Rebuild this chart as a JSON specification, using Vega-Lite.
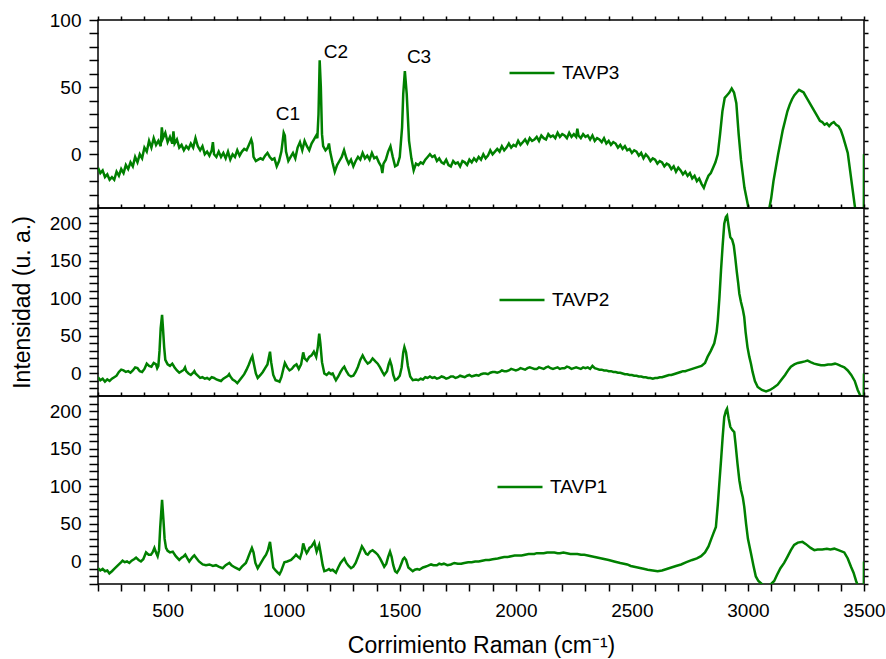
{
  "$schema": "https://vega.github.io/schema/vega-lite/v6.json",
  "padding": {"left": 10, "top": 10, "right": 0, "bottom": 0},
  "background": "white",
  "config": {
    "font": "Liberation Sans",
    "view": {"stroke": "#000", "strokeWidth": 1.5},
    "axis": {"domain": false, "ticks": true, "tickColor": "#000", "tickWidth": 1.5, "labelColor": "#000", "labelFont": "Liberation Sans", "labelFontSize": 19, "titleFont": "Liberation Sans", "titleFontSize": 23, "titleFontWeight": "normal", "titleColor": "#000", "grid": false, "labelOverlap": false, "labelFlush": false, "format": "d"},
    "legend": {"labelFont": "Liberation Sans", "labelFontSize": 19, "labelColor": "#000", "padding": 0, "symbolType": "stroke", "symbolStrokeWidth": 2.5, "symbolSize": 2025, "labelOffset": 6, "orient": "none"},
    "concat": {"spacing": 0}
  },
  "datasets": {
    "t3": [
      {"x":200,"y":-10},{"x":210,"y":-14},{"x":220,"y":-12},{"x":230,"y":-17},{"x":240,"y":-15},{"x":250,"y":-19},{"x":260,"y":-17},{"x":270,"y":-19},{"x":280,"y":-13},{"x":290,"y":-16},
      {"x":300,"y":-11},{"x":310,"y":-14},{"x":320,"y":-8},{"x":330,"y":-11},{"x":340,"y":-6},{"x":350,"y":-9},{"x":360,"y":-2},{"x":370,"y":-6},{"x":380,"y":0},{"x":390,"y":-3},
      {"x":400,"y":5},{"x":410,"y":2},{"x":420,"y":10},{"x":430,"y":5},{"x":440,"y":12},{"x":450,"y":7},{"x":460,"y":10},{"x":470,"y":6},{"x":475,"y":20},{"x":480,"y":12},
      {"x":490,"y":16},{"x":500,"y":9},{"x":510,"y":13},{"x":520,"y":8},{"x":525,"y":17},{"x":530,"y":8},{"x":540,"y":11},{"x":550,"y":5},{"x":560,"y":7},{"x":570,"y":3},
      {"x":580,"y":6},{"x":590,"y":4},{"x":600,"y":8},{"x":610,"y":5},{"x":620,"y":12},{"x":630,"y":6},{"x":640,"y":3},{"x":650,"y":6},{"x":660,"y":0},{"x":670,"y":2},
      {"x":680,"y":-1},{"x":690,"y":3},{"x":695,"y":9},{"x":700,"y":0},{"x":710,"y":-2},{"x":720,"y":2},{"x":730,"y":-2},{"x":740,"y":1},{"x":750,"y":-3},{"x":760,"y":2},
      {"x":770,"y":-4},{"x":780,"y":0},{"x":790,"y":-2},{"x":800,"y":3},{"x":810,"y":-1},{"x":820,"y":2},{"x":830,"y":4},{"x":840,"y":3},{"x":850,"y":7},{"x":860,"y":11},
      {"x":865,"y":8},{"x":870,"y":-2},{"x":880,"y":-5},{"x":890,"y":-4},{"x":900,"y":-3},{"x":910,"y":-4},{"x":920,"y":-1},{"x":930,"y":1},{"x":940,"y":-2},{"x":950,"y":-4},
      {"x":960,"y":-3},{"x":970,"y":-9},{"x":980,"y":-5},{"x":990,"y":2},{"x":1000,"y":16},{"x":1005,"y":14},{"x":1010,"y":2},{"x":1020,"y":-5},{"x":1030,"y":-2},{"x":1040,"y":1},
      {"x":1050,"y":-3},{"x":1060,"y":5},{"x":1070,"y":9},{"x":1080,"y":3},{"x":1090,"y":10},{"x":1100,"y":6},{"x":1110,"y":3},{"x":1120,"y":8},{"x":1130,"y":11},{"x":1140,"y":14},
      {"x":1145,"y":12},{"x":1150,"y":30},{"x":1155,"y":70},{"x":1160,"y":50},{"x":1165,"y":15},{"x":1170,"y":6},{"x":1180,"y":3},{"x":1190,"y":5},{"x":1195,"y":8},{"x":1200,"y":2},
      {"x":1210,"y":-6},{"x":1220,"y":-13},{"x":1230,"y":-8},{"x":1240,"y":-5},{"x":1250,"y":-2},{"x":1260,"y":3},{"x":1270,"y":-3},{"x":1280,"y":-7},{"x":1290,"y":-4},{"x":1300,"y":-9},
      {"x":1310,"y":-5},{"x":1320,"y":-2},{"x":1330,"y":-4},{"x":1340,"y":1},{"x":1350,"y":-3},{"x":1360,"y":-1},{"x":1370,"y":-4},{"x":1380,"y":1},{"x":1390,"y":-3},{"x":1400,"y":-2},
      {"x":1410,"y":-6},{"x":1420,"y":-9},{"x":1425,"y":-14},{"x":1430,"y":-7},{"x":1440,"y":-4},{"x":1450,"y":2},{"x":1460,"y":6},{"x":1470,"y":-2},{"x":1480,"y":-9},{"x":1490,"y":-8},
      {"x":1500,"y":-2},{"x":1510,"y":20},{"x":1515,"y":45},{"x":1522,"y":62},{"x":1530,"y":45},{"x":1540,"y":10},{"x":1550,"y":-3},{"x":1560,"y":-12},{"x":1570,"y":-7},{"x":1580,"y":-8},
      {"x":1590,"y":-6},{"x":1600,"y":-7},{"x":1610,"y":-4},{"x":1620,"y":-2},
      {"x":1630,"y":0},{"x":1640,"y":-2},{"x":1650,"y":-1},{"x":1660,"y":-5},{"x":1670,"y":-3},{"x":1680,"y":-6},{"x":1690,"y":-7},{"x":1700,"y":-4},{"x":1710,"y":-8},{"x":1720,"y":-9},
      {"x":1730,"y":-5},{"x":1740,"y":-7},{"x":1750,"y":-6},{"x":1760,"y":-9},{"x":1770,"y":-5},{"x":1780,"y":-6},{"x":1790,"y":-8},{"x":1800,"y":-4},{"x":1810,"y":-6},{"x":1820,"y":-3},
      {"x":1830,"y":-5},{"x":1840,"y":-2},{"x":1850,"y":-4},{"x":1860,"y":0},{"x":1870,"y":-3},{"x":1880,"y":-1},{"x":1890,"y":3},{"x":1900,"y":0},{"x":1910,"y":2},{"x":1920,"y":4},
      {"x":1930,"y":2},{"x":1940,"y":6},{"x":1950,"y":3},{"x":1960,"y":5},{"x":1970,"y":8},{"x":1980,"y":5},{"x":1990,"y":7},{"x":2000,"y":6},{"x":2010,"y":10},{"x":2020,"y":7},
      {"x":2030,"y":9},{"x":2040,"y":11},{"x":2050,"y":8},{"x":2060,"y":12},{"x":2070,"y":10},{"x":2080,"y":11},{"x":2090,"y":13},{"x":2100,"y":10},{"x":2110,"y":14},{"x":2120,"y":12},
      {"x":2130,"y":11},{"x":2140,"y":15},{"x":2150,"y":13},{"x":2160,"y":14},{"x":2170,"y":12},{"x":2180,"y":16},{"x":2190,"y":13},{"x":2200,"y":15},{"x":2210,"y":14},{"x":2220,"y":12},
      {"x":2230,"y":16},{"x":2240,"y":13},{"x":2250,"y":15},{"x":2260,"y":13},{"x":2265,"y":19},{"x":2270,"y":14},{"x":2280,"y":12},{"x":2290,"y":15},{"x":2300,"y":13},{"x":2310,"y":14},
      {"x":2320,"y":11},{"x":2330,"y":14},{"x":2340,"y":10},{"x":2350,"y":12},{"x":2360,"y":11},{"x":2370,"y":9},{"x":2380,"y":12},{"x":2390,"y":8},{"x":2400,"y":10},{"x":2410,"y":7},
      {"x":2420,"y":9},{"x":2430,"y":8},{"x":2440,"y":5},{"x":2450,"y":7},{"x":2460,"y":4},{"x":2470,"y":6},{"x":2480,"y":3},{"x":2490,"y":4},{"x":2500,"y":1},{"x":2510,"y":3},
      {"x":2520,"y":2},{"x":2530,"y":-1},{"x":2540,"y":1},{"x":2550,"y":-3},{"x":2560,"y":0},{"x":2570,"y":-2},{"x":2580,"y":-5},{"x":2590,"y":-3},{"x":2600,"y":-4},{"x":2610,"y":-7},
      {"x":2620,"y":-5},{"x":2630,"y":-6},{"x":2640,"y":-9},{"x":2650,"y":-7},{"x":2660,"y":-8},{"x":2670,"y":-11},{"x":2680,"y":-9},{"x":2690,"y":-13},{"x":2700,"y":-10},{"x":2710,"y":-12},
      {"x":2720,"y":-15},{"x":2730,"y":-13},{"x":2740,"y":-16},{"x":2750,"y":-14},{"x":2760,"y":-18},{"x":2770,"y":-16},{"x":2780,"y":-20},{"x":2790,"y":-18},{"x":2800,"y":-22},{"x":2810,"y":-25},
      {"x":2820,"y":-20},{"x":2830,"y":-16},{"x":2840,"y":-14},{"x":2850,"y":-10},{"x":2860,"y":-6},{"x":2870,"y":0},{"x":2880,"y":15},
      {"x":2890,"y":32},{"x":2900,"y":42},{"x":2910,"y":44},{"x":2920,"y":46},{"x":2930,"y":49},{"x":2940,"y":46},{"x":2950,"y":38},{"x":2960,"y":15},{"x":2970,"y":-4},{"x":2985,"y":-25},
      {"x":3000,"y":-38},{"x":3010,"y":-48},{"x":3030,"y":-65},{"x":3050,"y":-75},{"x":3070,"y":-65},{"x":3090,"y":-42},{"x":3100,"y":-33},{"x":3110,"y":-20},{"x":3120,"y":-10},{"x":3130,"y":0},
      {"x":3140,"y":9},{"x":3150,"y":18},{"x":3160,"y":25},{"x":3170,"y":32},{"x":3180,"y":37},{"x":3190,"y":41},{"x":3200,"y":44},{"x":3210,"y":46},{"x":3220,"y":48},{"x":3230,"y":47},
      {"x":3240,"y":46},{"x":3250,"y":43},{"x":3260,"y":40},{"x":3270,"y":37},{"x":3280,"y":34},{"x":3290,"y":31},{"x":3300,"y":28},{"x":3310,"y":25},{"x":3320,"y":24},{"x":3330,"y":22},
      {"x":3340,"y":23},{"x":3350,"y":21},{"x":3360,"y":23},{"x":3370,"y":24},{"x":3380,"y":22},{"x":3390,"y":21},{"x":3400,"y":18},{"x":3410,"y":13},{"x":3420,"y":7},{"x":3430,"y":1},
      {"x":3440,"y":-12},{"x":3450,"y":-25},{"x":3460,"y":-38},{"x":3470,"y":-50},{"x":3490,"y":-70},{"x":3499,"y":-70},{"x":3500,"y":0}
    ],
    "t2": [
      {"x":200,"y":-5},{"x":210,"y":-9},{"x":220,"y":-7},{"x":230,"y":-11},{"x":240,"y":-8},{"x":250,"y":-10},{"x":260,"y":-7},{"x":270,"y":-5},{"x":280,"y":-3},{"x":290,"y":2},
      {"x":300,"y":5},{"x":310,"y":4},{"x":320,"y":2},{"x":330,"y":3},{"x":340,"y":1},{"x":350,"y":4},{"x":360,"y":8},{"x":370,"y":7},{"x":380,"y":3},{"x":390,"y":2},
      {"x":400,"y":6},{"x":410,"y":13},{"x":420,"y":10},{"x":430,"y":9},{"x":440,"y":14},{"x":450,"y":12},{"x":455,"y":7},{"x":460,"y":10},{"x":465,"y":30},{"x":470,"y":60},
      {"x":476,"y":78},{"x":480,"y":60},{"x":485,"y":35},{"x":490,"y":18},{"x":500,"y":12},{"x":510,"y":10},{"x":520,"y":13},{"x":530,"y":8},{"x":540,"y":4},{"x":550,"y":1},
      {"x":560,"y":3},{"x":570,"y":5},{"x":575,"y":8},{"x":580,"y":3},{"x":590,"y":0},{"x":600,"y":-2},{"x":610,"y":1},{"x":615,"y":3},{"x":620,"y":0},{"x":630,"y":-3},
      {"x":640,"y":-6},{"x":650,"y":-5},{"x":660,"y":-7},{"x":670,"y":-6},{"x":680,"y":-8},{"x":690,"y":-5},{"x":700,"y":-6},{"x":710,"y":-8},{"x":720,"y":-9},{"x":730,"y":-10},
      {"x":740,"y":-7},{"x":750,"y":-5},{"x":760,"y":-3},{"x":765,"y":-1},{"x":770,"y":-4},{"x":780,"y":-8},{"x":790,"y":-10},{"x":800,"y":-13},{"x":810,"y":-9},{"x":820,"y":-5},
      {"x":830,"y":-1},{"x":840,"y":5},{"x":850,"y":12},{"x":860,"y":20},{"x":865,"y":23},{"x":870,"y":15},{"x":880,"y":0},{"x":888,"y":-6},{"x":900,"y":-2},{"x":910,"y":2},
      {"x":920,"y":7},{"x":930,"y":12},{"x":935,"y":20},{"x":941,"y":29},{"x":946,"y":15},{"x":955,"y":-2},{"x":965,"y":-9},{"x":975,"y":-10},{"x":982,"y":-11},{"x":990,"y":-5},
      {"x":1000,"y":8},{"x":1005,"y":14},{"x":1015,"y":8},{"x":1025,"y":4},{"x":1035,"y":6},{"x":1045,"y":10},{"x":1055,"y":12},{"x":1065,"y":6},{"x":1075,"y":12},{"x":1084,"y":28},
      {"x":1090,"y":20},{"x":1100,"y":17},{"x":1110,"y":22},{"x":1120,"y":24},{"x":1130,"y":29},{"x":1140,"y":22},{"x":1147,"y":35},{"x":1153,"y":53},{"x":1158,"y":40},{"x":1165,"y":15},
      {"x":1175,"y":0},{"x":1185,"y":-2},{"x":1195,"y":1},{"x":1205,"y":-1},{"x":1211,"y":0},{"x":1220,"y":-6},{"x":1225,"y":-9},{"x":1235,"y":-4},{"x":1245,"y":2},{"x":1255,"y":7},
      {"x":1261,"y":9},{"x":1270,"y":3},{"x":1280,"y":-2},{"x":1290,"y":-4},{"x":1300,"y":-3},{"x":1310,"y":2},{"x":1320,"y":9},{"x":1330,"y":18},{"x":1340,"y":24},{"x":1350,"y":18},
      {"x":1362,"y":13},{"x":1372,"y":15},{"x":1383,"y":20},{"x":1395,"y":16},{"x":1405,"y":13},{"x":1415,"y":8},{"x":1425,"y":2},{"x":1433,"y":-2},{"x":1445,"y":3},{"x":1452,"y":12},
      {"x":1458,"y":17},{"x":1465,"y":10},{"x":1472,"y":-2},{"x":1480,"y":-9},{"x":1490,"y":-7},{"x":1500,"y":-3},{"x":1508,"y":8},{"x":1515,"y":28},{"x":1520,"y":35},{"x":1527,"y":28},
      {"x":1535,"y":10},{"x":1545,"y":-4},{"x":1556,"y":-9},{"x":1570,"y":-8},{"x":1580,"y":-9},{"x":1590,"y":-7},{"x":1600,"y":-8},{"x":1610,"y":-5},{"x":1620,"y":-6},{"x":1630,"y":-4},{"x":1640,"y":-6},{"x":1650,"y":-5},{"x":1660,"y":-7},{"x":1670,"y":-6},{"x":1680,"y":-4},{"x":1690,"y":-5},
      {"x":1700,"y":-7},{"x":1710,"y":-6},{"x":1720,"y":-4},{"x":1730,"y":-4},{"x":1740,"y":-6},{"x":1750,"y":-5},{"x":1760,"y":-3},{"x":1770,"y":-4},{"x":1780,"y":-5},{"x":1790,"y":-3},{"x":1800,"y":-2},{"x":1810,"y":-4},{"x":1820,"y":-3},{"x":1830,"y":-2},{"x":1840,"y":-3},{"x":1850,"y":-1},{"x":1860,"y":0},{"x":1870,"y":0},{"x":1880,"y":-1},{"x":1890,"y":1},
      {"x":1900,"y":2},{"x":1910,"y":2},{"x":1920,"y":1},{"x":1930,"y":2},{"x":1940,"y":4},{"x":1950,"y":3},{"x":1960,"y":3},{"x":1970,"y":4},{"x":1980,"y":6},{"x":1990,"y":5},{"x":2000,"y":4},{"x":2010,"y":5},{"x":2020,"y":7},{"x":2030,"y":6},{"x":2040,"y":5},{"x":2050,"y":7},{"x":2060,"y":8},{"x":2070,"y":7},{"x":2080,"y":6},{"x":2090,"y":6},
      {"x":2100,"y":8},{"x":2110,"y":7},{"x":2120,"y":6},{"x":2130,"y":8},{"x":2140,"y":9},{"x":2150,"y":7},{"x":2160,"y":6},{"x":2170,"y":7},{"x":2180,"y":8},{"x":2190,"y":6},{"x":2200,"y":7},{"x":2210,"y":7},{"x":2220,"y":9},{"x":2230,"y":8},{"x":2240,"y":6},{"x":2250,"y":7},{"x":2260,"y":8},{"x":2270,"y":7},{"x":2280,"y":6},{"x":2290,"y":8},
      {"x":2300,"y":7},{"x":2310,"y":8},{"x":2320,"y":6},{"x":2330,"y":10},{"x":2340,"y":7},{"x":2350,"y":6},{"x":2360,"y":5},{"x":2370,"y":5},{"x":2380,"y":4},{"x":2390,"y":4},{"x":2400,"y":3},{"x":2410,"y":3},{"x":2420,"y":2},{"x":2430,"y":2},{"x":2440,"y":1},{"x":2450,"y":1},{"x":2460,"y":0},{"x":2470,"y":-1},{"x":2480,"y":-1},{"x":2490,"y":-2},
      {"x":2500,"y":-2},{"x":2510,"y":-3},{"x":2520,"y":-3},{"x":2530,"y":-4},{"x":2540,"y":-4},{"x":2550,"y":-5},{"x":2560,"y":-5},{"x":2570,"y":-6},{"x":2580,"y":-6},{"x":2590,"y":-7},{"x":2600,"y":-6},{"x":2610,"y":-6},{"x":2620,"y":-5},{"x":2630,"y":-5},{"x":2640,"y":-4},{"x":2650,"y":-3},{"x":2660,"y":-2},{"x":2670,"y":-2},{"x":2680,"y":-1},{"x":2690,"y":0},
      {"x":2700,"y":1},{"x":2710,"y":2},{"x":2720,"y":3},{"x":2730,"y":3},{"x":2740,"y":4},{"x":2750,"y":5},{"x":2760,"y":6},{"x":2770,"y":7},{"x":2780,"y":8},{"x":2790,"y":9},{"x":2800,"y":10},{"x":2815,"y":14},{"x":2826,"y":22},{"x":2840,"y":30},{"x":2855,"y":40},
      {"x":2865,"y":55},{"x":2870,"y":70},{"x":2877,"y":100},{"x":2884,"y":137},{"x":2891,"y":170},{"x":2898,"y":199},{"x":2905,"y":208},{"x":2910,"y":210},{"x":2917,"y":195},{"x":2924,"y":181},
      {"x":2932,"y":178},{"x":2939,"y":170},{"x":2945,"y":155},{"x":2952,"y":135},{"x":2958,"y":120},{"x":2963,"y":106},{"x":2970,"y":95},{"x":2978,"y":85},{"x":2984,"y":75},{"x":2990,"y":55},
      {"x":2998,"y":35},{"x":3006,"y":22},{"x":3013,"y":13},{"x":3020,"y":2},{"x":3030,"y":-10},{"x":3042,"y":-18},{"x":3060,"y":-22},{"x":3078,"y":-24},{"x":3095,"y":-22},{"x":3110,"y":-19},
      {"x":3128,"y":-15},{"x":3145,"y":-8},{"x":3160,"y":-2},{"x":3175,"y":5},{"x":3185,"y":9},{"x":3200,"y":12},{"x":3215,"y":14},{"x":3230,"y":15},{"x":3245,"y":16},{"x":3257,"y":17},
      {"x":3270,"y":15},{"x":3285,"y":13},{"x":3300,"y":12},{"x":3315,"y":11},{"x":3330,"y":11},{"x":3345,"y":12},{"x":3360,"y":12},{"x":3375,"y":13},{"x":3386,"y":12},{"x":3400,"y":10},
      {"x":3415,"y":8},{"x":3430,"y":4},{"x":3445,"y":-2},{"x":3460,"y":-10},{"x":3473,"y":-22},{"x":3485,"y":-30},{"x":3495,"y":-36},{"x":3499,"y":-36},{"x":3500,"y":0}
    ],
    "t1": [
      {"x":200,"y":-9},{"x":210,"y":-12},{"x":220,"y":-10},{"x":230,"y":-13},{"x":240,"y":-12},{"x":249,"y":-16},{"x":260,"y":-13},{"x":270,"y":-10},{"x":280,"y":-7},{"x":290,"y":-4},
      {"x":300,"y":-1},{"x":306,"y":1},{"x":315,"y":-1},{"x":325,"y":0},{"x":335,"y":-2},{"x":345,"y":1},{"x":355,"y":3},{"x":364,"y":5},{"x":375,"y":2},{"x":385,"y":0},
      {"x":395,"y":3},{"x":407,"y":12},{"x":418,"y":9},{"x":428,"y":9},{"x":435,"y":12},{"x":443,"y":18},{"x":450,"y":12},{"x":457,"y":7},{"x":463,"y":15},{"x":468,"y":45},
      {"x":476,"y":82},{"x":482,"y":55},{"x":487,"y":30},{"x":493,"y":18},{"x":500,"y":14},{"x":510,"y":12},{"x":522,"y":13},{"x":535,"y":7},{"x":550,"y":2},{"x":560,"y":5},
      {"x":570,"y":7},{"x":576,"y":9},{"x":585,"y":4},{"x":593,"y":0},{"x":600,"y":3},{"x":608,"y":6},{"x":615,"y":8},{"x":625,"y":4},{"x":635,"y":0},{"x":651,"y":-4},
      {"x":665,"y":-5},{"x":680,"y":-4},{"x":695,"y":-6},{"x":708,"y":-5},{"x":720,"y":-7},{"x":737,"y":-9},{"x":750,"y":-5},{"x":766,"y":-2},{"x":775,"y":-5},{"x":790,"y":-8},
      {"x":809,"y":-11},{"x":820,"y":-7},{"x":837,"y":-2},{"x":845,"y":4},{"x":855,"y":12},{"x":863,"y":18},{"x":870,"y":12},{"x":878,"y":-2},{"x":888,"y":-9},{"x":900,"y":-3},
      {"x":915,"y":5},{"x":924,"y":9},{"x":932,"y":15},{"x":941,"y":26},{"x":947,"y":12},{"x":955,"y":-8},{"x":965,"y":-12},{"x":975,"y":-15},{"x":982,"y":-17},{"x":990,"y":-12},
      {"x":1003,"y":-1},{"x":1015,"y":0},{"x":1032,"y":2},{"x":1045,"y":6},{"x":1053,"y":9},{"x":1062,"y":6},{"x":1070,"y":4},{"x":1078,"y":12},{"x":1084,"y":24},{"x":1092,"y":16},
      {"x":1099,"y":11},{"x":1105,"y":14},{"x":1111,"y":18},{"x":1120,"y":20},{"x":1132,"y":26},{"x":1138,"y":18},{"x":1142,"y":13},{"x":1148,"y":18},{"x":1153,"y":22},{"x":1160,"y":10},
      {"x":1168,"y":-5},{"x":1175,"y":-13},{"x":1185,"y":-12},{"x":1195,"y":-10},{"x":1202,"y":-12},{"x":1211,"y":-11},{"x":1218,"y":-13},{"x":1225,"y":-15},{"x":1235,"y":-8},{"x":1245,"y":-2},
      {"x":1255,"y":2},{"x":1261,"y":4},{"x":1270,"y":-2},{"x":1280,"y":-6},{"x":1290,"y":-9},{"x":1300,"y":-7},{"x":1310,"y":-2},{"x":1320,"y":6},{"x":1330,"y":14},{"x":1337,"y":20},
      {"x":1345,"y":16},{"x":1355,"y":10},{"x":1362,"y":9},{"x":1372,"y":13},{"x":1383,"y":15},{"x":1395,"y":12},{"x":1405,"y":9},{"x":1415,"y":4},{"x":1425,"y":-2},{"x":1433,"y":-7},
      {"x":1442,"y":-3},{"x":1450,"y":6},{"x":1458,"y":13},{"x":1465,"y":6},{"x":1472,"y":-5},{"x":1480,"y":-13},{"x":1488,"y":-15},{"x":1498,"y":-10},{"x":1508,"y":-2},{"x":1514,"y":3},
      {"x":1520,"y":5},{"x":1527,"y":2},{"x":1537,"y":-8},{"x":1556,"y":-13},{"x":1565,"y":-11},{"x":1575,"y":-10},{"x":1585,"y":-11},{"x":1600,"y":-8},{"x":1610,"y":-7},{"x":1620,"y":-6},{"x":1635,"y":-4},{"x":1645,"y":-5},{"x":1660,"y":-5},{"x":1670,"y":-3},{"x":1680,"y":-4},{"x":1690,"y":-3},{"x":1705,"y":-5},{"x":1720,"y":-4},
      {"x":1735,"y":-2},{"x":1750,"y":-3},{"x":1765,"y":-3},{"x":1778,"y":-2},{"x":1795,"y":-1},{"x":1810,"y":-1},{"x":1825,"y":0},{"x":1840,"y":0},{"x":1855,"y":1},{"x":1870,"y":2},{"x":1885,"y":2},{"x":1900,"y":3},{"x":1922,"y":4},{"x":1935,"y":5},{"x":1950,"y":6},{"x":1965,"y":6},{"x":1980,"y":7},{"x":1995,"y":8},{"x":2010,"y":8},
      {"x":2025,"y":8},{"x":2040,"y":9},{"x":2055,"y":10},{"x":2065,"y":10},{"x":2080,"y":10},{"x":2090,"y":11},{"x":2105,"y":11},{"x":2120,"y":11},{"x":2135,"y":12},{"x":2145,"y":12},{"x":2166,"y":12},{"x":2180,"y":11},{"x":2190,"y":11},{"x":2205,"y":12},{"x":2220,"y":11},{"x":2235,"y":10},{"x":2250,"y":10},{"x":2265,"y":10},{"x":2281,"y":9},
      {"x":2295,"y":9},{"x":2310,"y":8},{"x":2325,"y":7},{"x":2340,"y":6},{"x":2355,"y":5},{"x":2370,"y":4},{"x":2385,"y":3},{"x":2400,"y":2},{"x":2424,"y":0},{"x":2450,"y":-2},{"x":2465,"y":-3},{"x":2480,"y":-4},{"x":2495,"y":-6},{"x":2510,"y":-7},{"x":2525,"y":-8},{"x":2540,"y":-9},{"x":2555,"y":-10},{"x":2568,"y":-11},
      {"x":2590,"y":-12},{"x":2611,"y":-13},{"x":2630,"y":-12},{"x":2650,"y":-10},{"x":2670,"y":-8},{"x":2690,"y":-6},{"x":2712,"y":-4},{"x":2735,"y":-1},{"x":2760,"y":2},{"x":2780,"y":4},
      {"x":2798,"y":7},{"x":2815,"y":12},{"x":2830,"y":20},{"x":2841,"y":29},{"x":2852,"y":38},{"x":2862,"y":46},{"x":2870,"y":75},{"x":2877,"y":105},{"x":2884,"y":134},{"x":2891,"y":165},
      {"x":2898,"y":192},{"x":2905,"y":200},{"x":2910,"y":203},{"x":2917,"y":190},{"x":2924,"y":179},{"x":2932,"y":175},{"x":2941,"y":172},{"x":2947,"y":155},{"x":2955,"y":130},{"x":2963,"y":108},
      {"x":2970,"y":95},{"x":2978,"y":85},{"x":2984,"y":73},{"x":2992,"y":50},{"x":3000,"y":30},{"x":3013,"y":11},{"x":3024,"y":-6},{"x":3034,"y":-20},{"x":3045,"y":-26},{"x":3056,"y":-29},
      {"x":3070,"y":-33},{"x":3085,"y":-33},{"x":3100,"y":-30},{"x":3113,"y":-26},{"x":3125,"y":-18},{"x":3140,"y":-9},{"x":3156,"y":-2},{"x":3170,"y":6},{"x":3185,"y":15},{"x":3199,"y":22},
      {"x":3215,"y":25},{"x":3235,"y":26},{"x":3250,"y":23},{"x":3270,"y":18},{"x":3286,"y":15},{"x":3300,"y":16},{"x":3320,"y":16},{"x":3340,"y":17},{"x":3355,"y":16},{"x":3372,"y":17},
      {"x":3390,"y":15},{"x":3415,"y":12},{"x":3430,"y":4},{"x":3444,"y":-7},{"x":3455,"y":-15},{"x":3466,"y":-26},{"x":3478,"y":-36},{"x":3490,"y":-45},{"x":3499,"y":-45},{"x":3500,"y":0}
    ],
    "ann": [
      {"x":1018,"y":30,"t":"C1"},
      {"x":1225,"y":76.5,"t":"C2"},
      {"x":1583,"y":72.8,"t":"C3"}
    ]
  },
  "resolve": {"scale": {"color": "independent"}, "legend": {"color": "independent"}},
  "bounds": "flush",
  "vconcat": [
    {
      "width": 766, "height": 188,
      "layer": [
        {
          "data": {"name": "t3"},
          "mark": {"type": "line", "strokeWidth": 2.5, "clip": true},
          "encoding": {
            "x": {"field": "x", "type": "quantitative", "scale": {"domain": [200, 3500], "nice": false, "zero": false}, "axis": null},
            "y": {"field": "y", "type": "quantitative", "scale": {"domain": [-40, 100], "nice": false, "zero": false},
                  "axis": {"orient": "left", "title": null, "values": [-40,-30,-20,-10,0,10,20,30,40,50,60,70,80,90,100],
                           "labelExpr": "datum.value % 50 === 0 ? datum.label : ''",
                           "tickSize": 9, "labelPadding": 8,
                           "encode": {"ticks": {"update": {"x2": {"signal": "datum.value % 50 === 0 ? -9 : -5"}}}}}},
            "color": {"datum": "TAVP3", "scale": {"range": ["#008000"]}, "legend": {"title": null, "legendX": 410, "legendY": 29}}
          }
        },
        {
          "data": {"name": "t3"},
          "mark": {"type": "line", "opacity": 0, "clip": true},
          "encoding": {
            "x": {"field": "x", "type": "quantitative", "scale": {"domain": [200, 3500], "nice": false, "zero": false},
                  "axis": {"orient": "top", "title": null, "labels": false, "tickSize": 4, "values": [200,300,400,500,600,700,800,900,1000,1100,1200,1300,1400,1500,1600,1700,1800,1900,2000,2100,2200,2300,2400,2500,2600,2700,2800,2900,3000,3100,3200,3300,3400,3500],
                           "encode": {"ticks": {"update": {"y2": {"signal": "datum.value % 500 === 0 ? 8 : 4"}}}}}},
            "y": {"field": "y", "type": "quantitative", "scale": {"domain": [-40, 100], "nice": false, "zero": false},
                  "axis": {"orient": "right", "title": null, "labels": false, "tickSize": 4, "values": [-40,-30,-20,-10,0,10,20,30,40,50,60,70,80,90,100],
                           "encode": {"ticks": {"update": {"x2": {"signal": "datum.value % 50 === 0 ? -6 : -3"}}}}}}
          }
        },
        {
          "data": {"name": "ann"},
          "mark": {"type": "text", "fontSize": 19, "font": "Liberation Sans", "color": "#000", "align": "center", "baseline": "middle"},
          "encoding": {
            "x": {"field": "x", "type": "quantitative", "axis": null},
            "y": {"field": "y", "type": "quantitative", "axis": null},
            "text": {"field": "t"}
          }
        }
      ],
      "resolve": {"axis": {"x": "independent", "y": "independent"}}
    },
    {
      "width": 766, "height": 188,
      "data": {"name": "t2"},
      "layer": [
        {
          "mark": {"type": "line", "strokeWidth": 2.5, "clip": true},
          "encoding": {
            "x": {"field": "x", "type": "quantitative", "scale": {"domain": [200, 3500], "nice": false, "zero": false}, "axis": null},
            "y": {"field": "y", "type": "quantitative", "scale": {"domain": [-30, 220], "nice": false, "zero": false},
                  "axis": {"orient": "left", "title": "Intensidad (u. a.)", "titlePadding": 15, "values": [-30,-20,-10,0,10,20,30,40,50,60,70,80,90,100,110,120,130,140,150,160,170,180,190,200,210,220],
                           "labelExpr": "datum.value % 50 === 0 ? datum.label : ''",
                           "tickSize": 9, "labelPadding": 8,
                           "encode": {"ticks": {"update": {"x2": {"signal": "datum.value % 50 === 0 ? -9 : -5"}}}}}},
            "color": {"datum": "TAVP2", "scale": {"range": ["#008000"]}, "legend": {"title": null, "legendX": 400, "legendY": 68}}
          }
        },
        {
          "mark": {"type": "line", "opacity": 0, "clip": true},
          "encoding": {
            "x": {"field": "x", "type": "quantitative", "scale": {"domain": [200, 3500], "nice": false, "zero": false},
                  "axis": {"orient": "top", "title": null, "labels": false, "tickSize": 4, "values": [200,300,400,500,600,700,800,900,1000,1100,1200,1300,1400,1500,1600,1700,1800,1900,2000,2100,2200,2300,2400,2500,2600,2700,2800,2900,3000,3100,3200,3300,3400,3500],
                           "encode": {"ticks": {"update": {"y2": {"signal": "datum.value % 500 === 0 ? 8 : 4"}}}}}},
            "y": {"field": "y", "type": "quantitative", "scale": {"domain": [-30, 220], "nice": false, "zero": false},
                  "axis": {"orient": "right", "title": null, "labels": false, "tickSize": 4, "values": [-30,-20,-10,0,10,20,30,40,50,60,70,80,90,100,110,120,130,140,150,160,170,180,190,200,210,220],
                           "encode": {"ticks": {"update": {"x2": {"signal": "datum.value % 50 === 0 ? -6 : -3"}}}}}}
          }
        }
      ],
      "resolve": {"axis": {"x": "independent", "y": "independent"}}
    },
    {
      "width": 766, "height": 188,
      "data": {"name": "t1"},
      "layer": [
        {
          "mark": {"type": "line", "strokeWidth": 2.5, "clip": true},
          "encoding": {
            "x": {"field": "x", "type": "quantitative", "scale": {"domain": [200, 3500], "nice": false, "zero": false},
                  "axis": {"orient": "bottom", "title": "Corrimiento Raman (cm⁻¹)", "titlePadding": 14, "values": [200,300,400,500,600,700,800,900,1000,1100,1200,1300,1400,1500,1600,1700,1800,1900,2000,2100,2200,2300,2400,2500,2600,2700,2800,2900,3000,3100,3200,3300,3400,3500],
                           "labelExpr": "datum.value % 500 === 0 ? datum.label : ''",
                           "tickSize": 7, "labelPadding": 10,
                           "encode": {"ticks": {"update": {"y2": {"signal": "datum.value % 500 === 0 ? 7 : 4"}}}}}},
            "y": {"field": "y", "type": "quantitative", "scale": {"domain": [-30, 220], "nice": false, "zero": false},
                  "axis": {"orient": "left", "title": null, "values": [-30,-20,-10,0,10,20,30,40,50,60,70,80,90,100,110,120,130,140,150,160,170,180,190,200,210,220],
                           "labelExpr": "datum.value % 50 === 0 ? datum.label : ''",
                           "tickSize": 9, "labelPadding": 8,
                           "encode": {"ticks": {"update": {"x2": {"signal": "datum.value % 50 === 0 ? -9 : -5"}}}}}},
            "color": {"datum": "TAVP1", "scale": {"range": ["#008000"]}, "legend": {"title": null, "legendX": 398, "legendY": 67}}
          }
        },
        {
          "mark": {"type": "line", "opacity": 0, "clip": true},
          "encoding": {
            "x": {"field": "x", "type": "quantitative", "scale": {"domain": [200, 3500], "nice": false, "zero": false},
                  "axis": {"orient": "top", "title": null, "labels": false, "tickSize": 4, "values": [200,300,400,500,600,700,800,900,1000,1100,1200,1300,1400,1500,1600,1700,1800,1900,2000,2100,2200,2300,2400,2500,2600,2700,2800,2900,3000,3100,3200,3300,3400,3500],
                           "encode": {"ticks": {"update": {"y2": {"signal": "datum.value % 500 === 0 ? 8 : 4"}}}}}},
            "y": {"field": "y", "type": "quantitative", "scale": {"domain": [-30, 220], "nice": false, "zero": false},
                  "axis": {"orient": "right", "title": null, "labels": false, "tickSize": 4, "values": [-30,-20,-10,0,10,20,30,40,50,60,70,80,90,100,110,120,130,140,150,160,170,180,190,200,210,220],
                           "encode": {"ticks": {"update": {"x2": {"signal": "datum.value % 50 === 0 ? -6 : -3"}}}}}}
          }
        }
      ],
      "resolve": {"axis": {"x": "independent", "y": "independent"}}
    }
  ]
}
